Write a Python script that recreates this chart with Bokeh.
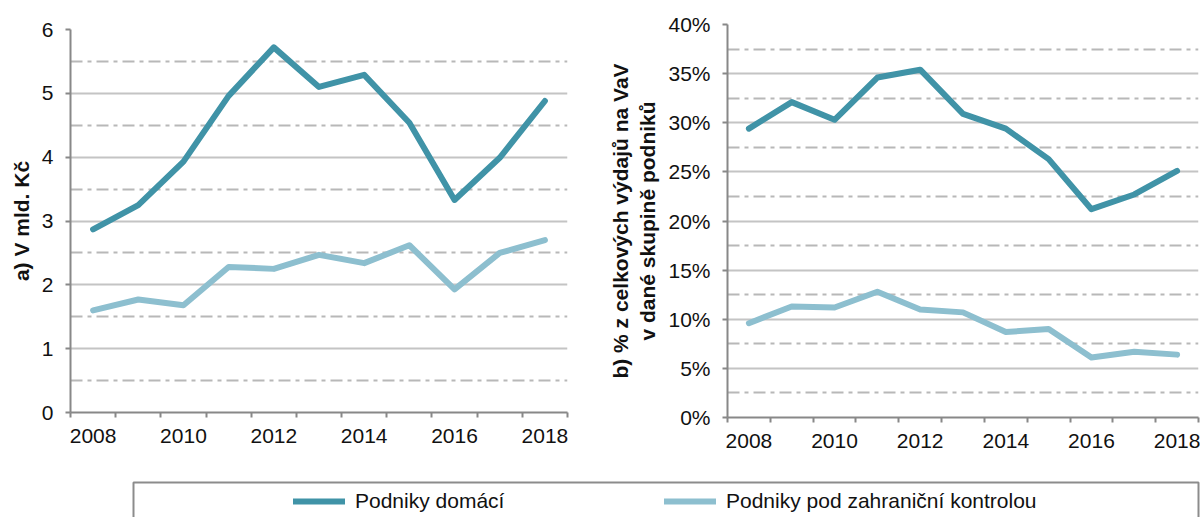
from bokeh.plotting import figure
from bokeh.layouts import column, row
from bokeh.models import (Range1d, FixedTicker, PrintfTickFormatter, Legend,
                          LegendItem, ColumnDataSource, BoxAnnotation)
from bokeh.embed import file_html
from bokeh.resources import INLINE

# ---- data ----
years = [2008, 2009, 2010, 2011, 2012, 2013, 2014, 2015, 2016, 2017, 2018]
year_labels = [2008, 2010, 2012, 2014, 2016, 2018]
domestic_bn = [2.87, 3.25, 3.93, 4.96, 5.72, 5.10, 5.29, 4.54, 3.33, 3.99, 4.88]
foreign_bn = [1.60, 1.77, 1.68, 2.28, 2.25, 2.47, 2.34, 2.62, 1.93, 2.50, 2.70]
domestic_pct = [29.4, 32.1, 30.3, 34.6, 35.4, 30.9, 29.4, 26.3, 21.2, 22.7, 25.1]
foreign_pct = [9.6, 11.3, 11.2, 12.8, 11.0, 10.7, 8.7, 9.0, 6.1, 6.7, 6.4]
left_major = [0, 1, 2, 3, 4, 5, 6]
left_minor = [0.5, 1.5, 2.5, 3.5, 4.5, 5.5]
right_major = [0, 5, 10, 15, 20, 25, 30, 35, 40]
right_minor = [2.5, 7.5, 12.5, 17.5, 22.5, 27.5, 32.5, 37.5]
series_names = ["Podniky domácí", "Podniky pod zahraniční kontrolou"]
left_label = "a) V mld. Kč"
right_label = "b) % z celkových výdajů na VaV\nv dané skupině podniků"

C_DOM = "#4093a7"
C_FOR = "#8dbfcf"
AXIS_C = "#888888"
GRID_C = "#c4c4c4"
MINOR_C = "#b8b8b8"
TXT = "#111111"
FONT = "Liberation Sans"
FS = "21px"

boundaries = [y - 0.5 for y in years] + [years[-1] + 0.5]
xr = (years[0] - 0.5, years[-1] + 0.5)

src = ColumnDataSource(dict(x=years, db=domestic_bn, fb=foreign_bn,
                            dp=domestic_pct, fp=foreign_pct))


def style(p, ymaj, ymin, label, standoff, fmt=None):
    xt = FixedTicker(ticks=year_labels, minor_ticks=boundaries)
    p.xaxis.ticker = xt
    p.xaxis.major_tick_out = 0
    p.xaxis.major_tick_in = 0
    p.xaxis.minor_tick_out = 5
    p.xaxis.minor_tick_in = 0
    p.xaxis.minor_tick_line_color = AXIS_C
    p.xaxis.minor_tick_line_width = 2
    p.xaxis.major_label_standoff = 11
    yt = FixedTicker(ticks=ymaj, minor_ticks=ymin)
    p.yaxis.ticker = yt
    p.ygrid.ticker = yt
    p.yaxis.major_tick_out = 5
    p.yaxis.major_tick_in = 0
    p.yaxis.minor_tick_out = 0
    p.yaxis.minor_tick_in = 0
    p.yaxis.major_tick_line_color = AXIS_C
    p.yaxis.major_tick_line_width = 2
    p.yaxis.major_label_standoff = 12
    if fmt is not None:
        p.yaxis.formatter = fmt
    for ax in (p.xaxis, p.yaxis):
        ax.axis_line_color = AXIS_C
        ax.axis_line_width = 2
        ax.major_label_text_font = FONT
        ax.major_label_text_font_size = FS
        ax.major_label_text_color = TXT
    p.yaxis.axis_label = label
    p.yaxis.axis_label_text_font = FONT
    p.yaxis.axis_label_text_font_size = FS
    p.yaxis.axis_label_text_font_style = "bold"
    p.yaxis.axis_label_text_color = TXT
    p.yaxis.axis_label_standoff = standoff
    p.xgrid.grid_line_color = None
    p.ygrid.grid_line_color = GRID_C
    p.ygrid.grid_line_width = 2
    p.ygrid.minor_grid_line_color = MINOR_C
    p.ygrid.minor_grid_line_width = 2
    p.ygrid.minor_grid_line_dash = "12 5 4 5"
    p.outline_line_color = None
    p.background_fill_color = "white"


p1 = figure(width=590, height=470, x_range=Range1d(*xr), y_range=Range1d(0, 6),
            toolbar_location=None, output_backend="svg",
            min_border_left=70, min_border_right=23, min_border_top=29,
            min_border_bottom=58)
style(p1, left_major, left_minor, left_label, 6)
p1.line("x", "fb", source=src, line_color=C_FOR, line_width=6, line_join="round", line_cap="round")
p1.line("x", "db", source=src, line_color=C_DOM, line_width=6, line_join="round", line_cap="round")

p2 = figure(width=610, height=470, x_range=Range1d(*xr), y_range=Range1d(0, 40),
            toolbar_location=None, output_backend="svg",
            min_border_left=137, min_border_right=2, min_border_top=24,
            min_border_bottom=53)
style(p2, right_major, right_minor, right_label, 6, PrintfTickFormatter(format="%d%%"))
p2.line("x", "fp", source=src, line_color=C_FOR, line_width=6, line_join="round", line_cap="round")
p2.line("x", "dp", source=src, line_color=C_DOM, line_width=6, line_join="round", line_cap="round")

# legend panel (lines kept outside its visible range; only the legend shows)
p3 = figure(width=1200, height=47, x_range=Range1d(*xr), y_range=Range1d(100, 101),
            toolbar_location=None, output_backend="svg",
            x_axis_location=None, y_axis_location=None,
            min_border_left=0, min_border_right=0, min_border_top=0,
            min_border_bottom=0)
p3.grid.visible = False
p3.outline_line_color = None
frame_box = BoxAnnotation(left=133, right=1198, top=12, bottom=80,
                          left_units="canvas", right_units="canvas",
                          top_units="canvas", bottom_units="canvas",
                          fill_color=None, fill_alpha=0,
                          line_color="#8c8c8c", line_width=2, line_alpha=1)
p3.add_layout(frame_box)
r1 = p3.line("x", "db", source=src, line_color=C_DOM, line_width=6, line_cap="round")
r2 = p3.line("x", "fb", source=src, line_color=C_FOR, line_width=6, line_cap="round")
legend = Legend(items=[LegendItem(label=series_names[0], renderers=[r1]),
                       LegendItem(label=series_names[1], renderers=[r2])],
                orientation="horizontal", location=(293, 4),
                border_line_color=None, background_fill_alpha=0,
                padding=0, margin=0, spacing=159, glyph_width=52, glyph_height=20,
                label_standoff=10, label_width=150,
                label_text_font=FONT, label_text_font_size=FS, label_text_color=TXT)
p3.add_layout(legend)

layout = column(row(column(p1), column(p2)), p3)
open("out.html", "w").write(file_html(layout, INLINE))
